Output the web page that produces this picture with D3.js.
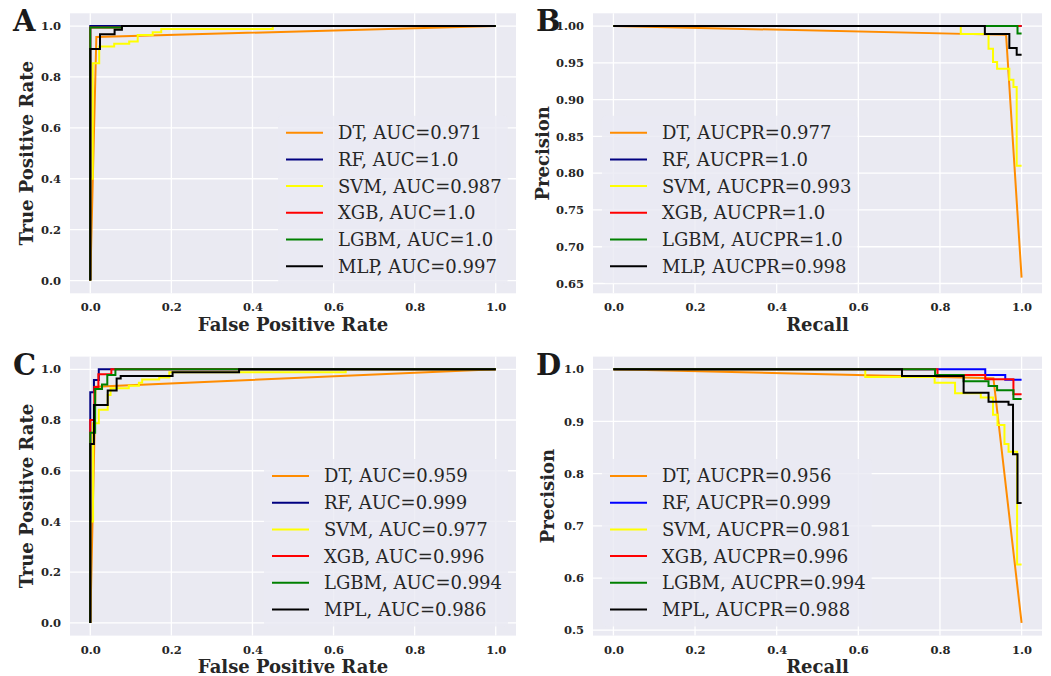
<!DOCTYPE html>
<html>
<head>
<meta charset="utf-8">
<script src="https://cdn.jsdelivr.net/npm/d3@7"></script>
<style>
  body { margin: 0; background: #fff; }
  svg text { font-family: "DejaVu Serif", serif; }
</style>
</head>
<body>
<script>
// ---- data ----
var models = ['DT', 'RF', 'SVM', 'XGB', 'LGBM', 'MLP'];
var xTicks = [0, 0.2, 0.4, 0.6, 0.8, 1.0];
var rocTicks = [0, 0.2, 0.4, 0.6, 0.8, 1.0];
var prTicksB = [0.65, 0.70, 0.75, 0.80, 0.85, 0.90, 0.95, 1.00];
var prTicksD = [0.5, 0.6, 0.7, 0.8, 0.9, 1.0];

// panel A: ROC, set 1  ([fpr, tpr])
var rocA_DT   = [[0, 0], [0.015, 0.957], [1, 1]];
var rocA_RF   = [[0, 0], [0, 1], [1, 1]];
var rocA_SVM  = [[0, 0], [0, 0.4], [0.006, 0.4], [0.006, 0.854], [0.022, 0.854], [0.022, 0.92], [0.059, 0.92], [0.059, 0.93],
                 [0.096, 0.93], [0.096, 0.939], [0.117, 0.939], [0.117, 0.965], [0.154, 0.965], [0.154, 0.976],
                 [0.175, 0.976], [0.175, 0.988], [0.45, 0.988], [0.45, 1], [1, 1]];
var rocA_XGB  = [[0, 0], [0, 0.994], [0.078, 0.994], [0.078, 1], [1, 1]];
var rocA_LGBM = [[0, 0], [0, 0.994], [0.078, 0.994], [0.078, 1], [1, 1]];
var rocA_MLP  = [[0, 0], [0, 0.91], [0.024, 0.91], [0.024, 0.968], [0.06, 0.968], [0.06, 0.985], [0.078, 0.985], [0.078, 1], [1, 1]];
var legA = ['DT, AUC=0.971', 'RF, AUC=1.0', 'SVM, AUC=0.987', 'XGB, AUC=1.0', 'LGBM, AUC=1.0', 'MLP, AUC=0.997'];

// panel B: PR, set 1  ([recall, precision])
var prB_DT   = [[0, 1], [0.962, 0.988], [1, 0.658]];
var prB_RF   = [[0, 1], [1, 1]];
var prB_SVM  = [[0, 1], [0.851, 1], [0.851, 0.989], [0.919, 0.989], [0.919, 0.969], [0.93, 0.969], [0.93, 0.951],
                [0.94, 0.951], [0.94, 0.942], [0.97, 0.942], [0.97, 0.927], [0.98, 0.927], [0.98, 0.917],
                [0.988, 0.917], [0.988, 0.81], [1, 0.81]];
var prB_XGB  = [[0, 1], [1, 1]];
var prB_LGBM = [[0, 1], [0.99, 1], [0.99, 0.99], [1, 0.99]];
var prB_MLP  = [[0, 1], [0.91, 1], [0.91, 0.989], [0.97, 0.989], [0.97, 0.97], [0.988, 0.97], [0.988, 0.961], [1, 0.961]];
var legB = ['DT, AUCPR=0.977', 'RF, AUCPR=1.0', 'SVM, AUCPR=0.993', 'XGB, AUCPR=1.0', 'LGBM, AUCPR=1.0', 'MLP, AUCPR=0.998'];

// panel C: ROC, set 2
var rocC_DT   = [[0, 0], [0.013, 0.931], [1, 1]];
var rocC_RF   = [[0, 0], [0, 0.909], [0.009, 0.909], [0.009, 0.958], [0.021, 0.958], [0.021, 1], [1, 1]];
var rocC_SVM  = [[0, 0], [0, 0.4], [0.007, 0.4], [0.007, 0.787], [0.021, 0.787], [0.021, 0.84], [0.043, 0.84], [0.043, 0.899],
                 [0.05, 0.899], [0.05, 0.925], [0.095, 0.925], [0.095, 0.935], [0.12, 0.935], [0.12, 0.947],
                 [0.128, 0.947], [0.128, 0.96], [0.17, 0.96], [0.17, 0.968], [0.195, 0.968], [0.195, 0.988],
                 [0.63, 0.988], [0.63, 1], [1, 1]];
var rocC_XGB  = [[0, 0], [0, 0.8], [0.01, 0.8], [0.01, 0.93], [0.02, 0.93], [0.02, 0.98], [0.052, 0.98], [0.052, 1], [1, 1]];
var rocC_LGBM = [[0, 0], [0, 0.75], [0.012, 0.75], [0.012, 0.922], [0.029, 0.922], [0.029, 0.94], [0.042, 0.94],
                 [0.042, 0.977], [0.062, 0.977], [0.062, 1], [1, 1]];
var rocC_MLP  = [[0, 0], [0, 0.705], [0.009, 0.705], [0.009, 0.859], [0.043, 0.859], [0.043, 0.916], [0.065, 0.916],
                 [0.065, 0.964], [0.075, 0.964], [0.075, 0.974], [0.203, 0.974], [0.203, 0.988], [0.367, 0.988], [0.367, 1], [1, 1]];
var legC = ['DT, AUC=0.959', 'RF, AUC=0.999', 'SVM, AUC=0.977', 'XGB, AUC=0.996', 'LGBM, AUC=0.994', 'MPL, AUC=0.986'];

// panel D: PR, set 2
var prD_DT   = [[0, 1], [0.931, 0.983], [1, 0.514]];
var prD_RF   = [[0, 1], [0.911, 1], [0.911, 0.989], [0.96, 0.989], [0.96, 0.98], [1, 0.98]];
var prD_SVM  = [[0, 1], [0.617, 1], [0.617, 0.985], [0.787, 0.985], [0.787, 0.974], [0.837, 0.974], [0.837, 0.954],
                [0.9, 0.954], [0.9, 0.946], [0.93, 0.946], [0.93, 0.913], [0.941, 0.913], [0.941, 0.893],
                [0.958, 0.893], [0.958, 0.857], [0.968, 0.857], [0.968, 0.842], [0.989, 0.842], [0.989, 0.626], [1, 0.626]];
var prD_XGB  = [[0, 1], [0.794, 1], [0.794, 0.989], [0.911, 0.989], [0.911, 0.981], [0.98, 0.981], [0.98, 0.952], [1, 0.952]];
var prD_LGBM = [[0, 1], [0.788, 1], [0.788, 0.989], [0.858, 0.989], [0.858, 0.977], [0.919, 0.977], [0.919, 0.968],
                [0.94, 0.968], [0.94, 0.96], [0.98, 0.96], [0.98, 0.943], [1, 0.943]];
var prD_MLP  = [[0, 1], [0.707, 1], [0.707, 0.987], [0.858, 0.987], [0.858, 0.955], [0.919, 0.955], [0.919, 0.938],
                [0.968, 0.938], [0.968, 0.932], [0.979, 0.932], [0.979, 0.837], [0.99, 0.837], [0.99, 0.744], [1, 0.744]];
var legD = ['DT, AUCPR=0.956', 'RF, AUCPR=0.999', 'SVM, AUCPR=0.981', 'XGB, AUCPR=0.996', 'LGBM, AUCPR=0.994', 'MPL, AUCPR=0.988'];

(function() {
  var W = 1051, H = 676;
  var bg = '#EAEAF2', ink = '#262626';
  var colorsNavy = ['#FF8C00', '#000080', '#FFFF00', '#FF0000', '#008000', '#000000'];
  var colorsBlue = ['#FF8C00', '#0000FF', '#FFFF00', '#FF0000', '#008000', '#000000'];

  var svg = d3.select('body').append('svg')
    .attr('width', W)
    .attr('height', H);

  // layout of each subplot (pixel boxes)
  var panels = [
    {letter: 'A', left: 70, top: 13.3, w: 446, h: 280, yDom: [-0.05, 1.05], yTicks: rocTicks, fmt: '.1f',
     curves: [rocA_DT, rocA_RF, rocA_SVM, rocA_XGB, rocA_LGBM, rocA_MLP], legend: legA, colors: colorsNavy,
     xLabel: 'False Positive Rate', yLabel: 'True Positive Rate', yLabX: 27, legX: 286, legY: 132.7},
    {letter: 'B', left: 593, top: 13.3, w: 449, h: 280, yDom: [0.6367, 1.0173], yTicks: prTicksB, fmt: '.2f',
     curves: [prB_DT, prB_RF, prB_SVM, prB_XGB, prB_LGBM, prB_MLP], legend: legB, colors: colorsNavy,
     xLabel: 'Recall', yLabel: 'Precision', yLabX: 543, legX: 610, legY: 132.7},
    {letter: 'C', left: 70, top: 356.6, w: 446, h: 279, yDom: [-0.05, 1.05], yTicks: rocTicks, fmt: '.1f',
     curves: [rocC_DT, rocC_RF, rocC_SVM, rocC_XGB, rocC_LGBM, rocC_MLP], legend: legC, colors: colorsNavy,
     xLabel: 'False Positive Rate', yLabel: 'True Positive Rate', yLabX: 27, legX: 272, legY: 476},
    {letter: 'D', left: 593, top: 356.6, w: 449, h: 279, yDom: [0.4897, 1.0243], yTicks: prTicksD, fmt: '.1f',
     curves: [prD_DT, prD_RF, prD_SVM, prD_XGB, prD_LGBM, prD_MLP], legend: legD, colors: colorsBlue,
     xLabel: 'Recall', yLabel: 'Precision', yLabX: 548, legX: 610, legY: 476}
  ];

  panels.forEach(drawPanel);

  function drawPanel(p) {
    var x = d3.scaleLinear().domain([-0.05, 1.05]).range([p.left, p.left + p.w]);
    var y = d3.scaleLinear().domain(p.yDom).range([p.top + p.h, p.top]);
    var g = svg.append('g');

    // background + grid
    g.append('rect')
      .attr('x', p.left).attr('y', p.top)
      .attr('width', p.w).attr('height', p.h)
      .attr('fill', bg);

    g.selectAll('.vg').data(xTicks).enter().append('line')
      .attr('x1', function(d) { return x(d); }).attr('x2', function(d) { return x(d); })
      .attr('y1', p.top).attr('y2', p.top + p.h)
      .attr('stroke', '#fff').attr('stroke-width', 1.3);
    g.selectAll('.hg').data(p.yTicks).enter().append('line')
      .attr('y1', function(d) { return y(d); }).attr('y2', function(d) { return y(d); })
      .attr('x1', p.left).attr('x2', p.left + p.w)
      .attr('stroke', '#fff').attr('stroke-width', 1.3);

    // axes (no domain, no tick marks)
    var xAxis = g.append('g')
      .attr('transform', 'translate(0,' + (p.top + p.h) + ')')
      .call(d3.axisBottom(x).tickValues(xTicks).tickFormat(d3.format('.1f')).tickSize(0).tickPadding(10));
    var yAxis = g.append('g')
      .attr('transform', 'translate(' + p.left + ',0)')
      .call(d3.axisLeft(y).tickValues(p.yTicks).tickFormat(d3.format(p.fmt)).tickSize(0).tickPadding(9));
    [xAxis, yAxis].forEach(function(a) {
      a.select('.domain').remove();
      a.selectAll('text')
        .attr('fill', ink)
        .style('font-family', '"DejaVu Serif", serif')
        .style('font-size', '11.5px')
        .style('font-weight', 'bold');
    });

    // curves
    var line = d3.line()
      .x(function(d) { return x(d[0]); })
      .y(function(d) { return y(d[1]); });
    p.curves.forEach(function(c, i) {
      g.append('path')
        .datum(c)
        .attr('d', line)
        .attr('fill', 'none')
        .attr('stroke', p.colors[i])
        .attr('stroke-width', 2)
        .attr('stroke-linejoin', 'miter');
    });

    // legend: semi-transparent box, then handles + labels
    var rowH = 26.7;
    var leg = g.append('g');
    var box = leg.append('rect')
      .attr('fill', bg).attr('fill-opacity', 0.8)
      .attr('rx', 4);
    var items = leg.selectAll('g').data(p.legend).enter().append('g')
      .attr('transform', function(d, i) { return 'translate(' + p.legX + ',' + (p.legY + i * rowH) + ')'; });
    items.append('line')
      .attr('x1', 0).attr('x2', 37)
      .attr('stroke', function(d, i) { return p.colors[i]; })
      .attr('stroke-width', 2);
    var labels = items.append('text')
      .attr('x', 52).attr('dy', '0.36em')
      .attr('fill', ink)
      .style('font-size', '18px')
      .text(function(d) { return d; });
    var maxW = d3.max(labels.nodes(), function(n) { return n.getComputedTextLength(); });
    box.attr('x', p.legX - 8)
      .attr('y', p.legY - 17)
      .attr('width', 52 + maxW + 14)
      .attr('height', rowH * (p.legend.length - 1) + 34);

    // axis labels
    g.append('text')
      .attr('x', p.left + p.w / 2).attr('y', p.top + p.h + 37.5)
      .attr('text-anchor', 'middle')
      .attr('fill', ink)
      .style('font-size', '18px').style('font-weight', 'bold')
      .text(p.xLabel);
    g.append('text')
      .attr('transform', 'translate(' + p.yLabX + ',' + (p.top + p.h / 2) + ') rotate(-90)')
      .attr('text-anchor', 'middle').attr('dy', '0.36em')
      .attr('fill', ink)
      .style('font-size', '18px').style('font-weight', 'bold')
      .text(p.yLabel);

    // panel letter
    g.append('text')
      .attr('x', p.left < 300 ? 13 : 536).attr('y', p.top + 18)
      .attr('fill', '#1a1a1a')
      .style('font-size', '29px').style('font-weight', 'bold')
      .text(p.letter);
  }
})();
</script>
</body>
</html>
